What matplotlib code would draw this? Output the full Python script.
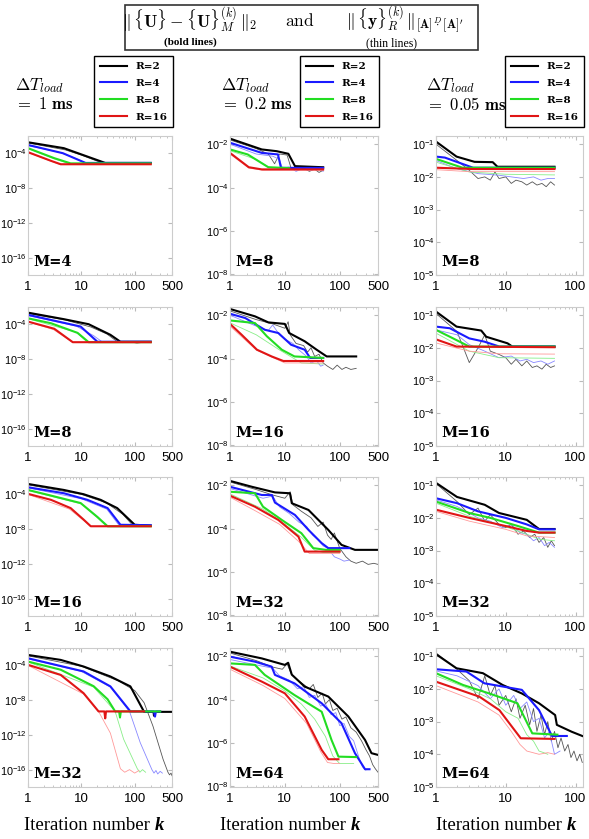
import numpy as np
import matplotlib
matplotlib.use('Agg')
from matplotlib import pyplot as plt
from matplotlib.patches import Rectangle

plt.rcParams['mathtext.fontset'] = 'cm'
plt.rcParams['font.family'] = ['Liberation Sans', 'DejaVu Sans']

R_values = [2, 4, 8, 16]
dt_labels = [r'$=\ \mathbf{1\ ms}$', r'$=\ \mathbf{0.2\ ms}$', r'$=\ \mathbf{0.05\ ms}$']
M_values = [[4, 8, 16, 32], [8, 16, 32, 64], [8, 16, 32, 64]]
xticks = [[1, 10, 100, 500], [1, 10, 100, 500], [1, 10, 100]]
yticks_exp = [[-4, -8, -12, -16], [-2, -4, -6, -8], [-1, -2, -3, -4, -5]]
ylims_exp = [(-18, -2), (-8.03, -1.62), (-5, -0.75)]
xmax = [500, 500, 128]

# values: {R: (iteration k, log10 of the norm)}
# dT = 1 ms
a1_bold = {2: ([1, 4.7, 28, 200], [-2.72, -3.4, -5.1, -5.1]),
           4: ([1, 4.5, 12, 200], [-3.03, -3.98, -5.1, -5.1]),
           8: ([1, 3.1, 6.3, 200], [-3.4, -4.55, -5.15, -5.15]),
           16: ([1, 2.7, 4.1, 200], [-3.86, -4.86, -5.25, -5.25])}
a1_thin = {2: ([1, 5, 10, 20, 30, 200], [-2.8, -3.6, -4.2, -4.9, -5.2, -5.2]),
           4: ([1, 4, 8, 13, 200], [-3.1, -3.9, -4.6, -5.2, -5.2]),
           8: ([1, 3, 6, 200], [-3.45, -4.6, -5.2, -5.2]),
           16: ([1, 2.7, 4, 200], [-3.9, -4.9, -5.3, -5.3])}
a2_bold = {2: ([1, 4.7, 13.7, 35, 54, 200], [-2.65, -3.4, -3.98, -5.2, -6.0, -6.0]),
           4: ([1, 9.7, 20, 200], [-2.9, -4.25, -6.0, -6.0]),
           8: ([1, 2.7, 8.5, 13.7, 200], [-3.3, -3.87, -4.98, -6.05, -6.05]),
           16: ([1, 3.1, 6.9, 200], [-3.68, -4.5, -6.05, -6.05])}
a2_thin = {2: ([1, 5, 15, 30, 45, 60, 80, 110, 150, 200],
               [-2.75, -3.5, -4.3, -5.1, -5.9, -6.1, -6.0, -6.15, -6.05, -6.1]),
           4: ([1, 8, 17, 25, 200], [-3.0, -4.2, -5.3, -6.05, -6.1]),
           8: ([1, 8, 13, 200], [-3.35, -4.9, -6.05, -6.05]),
           16: ([1, 3, 7, 200], [-3.7, -4.6, -6.1, -6.1])}
a3_bold = {2: ([1, 4.7, 11, 23, 47, 100, 200], [-2.8, -3.49, -3.98, -4.63, -5.58, -7.5, -7.6]),
           4: ([1, 4.7, 13, 31, 54, 200], [-3.18, -3.87, -4.63, -5.58, -7.5, -7.55]),
           8: ([1, 2.7, 9.7, 20, 31, 200], [-3.49, -4.14, -5.0, -6.6, -7.67, -7.67]),
           16: ([1, 2.7, 6.3, 11, 15, 200], [-3.94, -4.63, -5.58, -6.9, -7.67, -7.67])}
a3_thin = {2: ([1, 10, 30, 60, 90, 200], [-2.9, -4.0, -5.0, -6.3, -7.5, -7.6]),
           4: ([1, 10, 30, 50, 200], [-3.25, -4.5, -5.7, -7.5, -7.6]),
           8: ([1, 10, 20, 30, 200], [-3.55, -5.1, -6.7, -7.7, -7.7]),
           16: ([1, 6, 11, 15, 200], [-4.0, -5.7, -7.0, -7.7, -7.7])}
a4_bold = {2: ([1, 4.1, 11, 35, 83, 150, 225, 230, 235, 500],
               [-2.8, -3.37, -4.13, -5.28, -6.42, -9.35, -9.35, -9.8, -9.35, -9.35]),
           4: ([1, 11, 35, 83, 230, 240, 250, 300], [-3.18, -4.7, -6.42, -9.3, -9.3, -9.9, -9.3, -9.3]),
           8: ([1, 4.1, 17, 31, 43, 51, 53, 55, 300],
               [-3.56, -4.5, -6.4, -7.9, -9.3, -9.3, -10.0, -9.3, -9.3]),
           16: ([1, 4.1, 11, 21, 27, 28, 29, 150], [-3.94, -5.1, -7.2, -9.3, -9.3, -10.1, -9.3, -9.3])}
a4_thin = {2: ([1, 10, 50, 100, 150, 220, 340, 420, 450, 480, 500],
               [-2.9, -4.1, -5.8, -6.9, -8.3, -11.0, -14.8, -16.3, -16.6, -16.4, -16.7]),
           4: ([1, 10, 35, 80, 127, 210, 230, 250, 270, 300, 330],
               [-3.25, -4.7, -6.5, -9.3, -12.9, -16.0, -16.4, -16.1, -16.5, -16.2, -16.4]),
           8: ([1, 17, 43, 62, 112, 125, 140, 160], [-3.6, -6.5, -9.3, -12.5, -15.9, -16.3, -16.0, -16.3]),
           16: ([1, 11, 21, 35, 54, 65, 80, 100, 120],
                [-4.0, -7.3, -9.3, -11.8, -15.9, -16.3, -16.0, -16.4, -16.1])}

# dT = 0.2 ms
b1_bold = {2: ([1, 3.8, 7.1, 11.6, 15.3, 50], [-1.74, -2.24, -2.32, -2.44, -3.01, -3.06]),
           4: ([1, 3.8, 7.5, 8.5, 50], [-1.93, -2.4, -2.47, -3.09, -3.09]),
           8: ([1, 2.1, 5, 12], [-2.24, -2.47, -3.06, -3.1]),
           16: ([1, 2.2, 3.8, 50], [-2.4, -3.06, -3.16, -3.16])}
b1_thin = {2: ([1, 3, 5, 6.5, 8, 11, 13, 17, 22, 28, 35, 42, 50],
               [-1.8, -2.2, -2.45, -2.9, -2.45, -2.5, -3.1, -3.2, -3.1, -3.25, -3.15, -3.3, -3.2]),
           4: ([1, 3, 6, 8, 9, 12, 16, 20, 30, 40, 50],
               [-2.0, -2.45, -2.55, -2.7, -3.1, -3.05, -3.25, -3.15, -3.2, -3.1, -3.25]),
           8: ([1, 3, 5, 8, 15, 50], [-2.3, -2.7, -3.05, -3.1, -3.15, -3.15]),
           16: ([1, 2.2, 4, 50], [-2.45, -3.1, -3.2, -3.2])}
b2_bold = {2: ([1, 2.85, 5, 10, 12, 23, 38, 58, 200], [-1.71, -2.05, -2.33, -2.4, -2.82, -3.2, -3.59, -3.9, -3.9]),
           4: ([1, 1.9, 4.3, 7.6, 13, 23, 29, 50], [-1.93, -2.13, -2.67, -2.82, -3.36, -3.59, -3.97, -3.97]),
           8: ([1, 2.85, 4.7, 8.8, 15, 50], [-2.24, -2.36, -2.97, -3.59, -3.9, -3.97]),
           16: ([1, 1.63, 3.1, 5.75, 9.4, 50], [-2.4, -2.9, -3.59, -3.9, -4.11, -4.11])}
b2_thin = {2: ([1, 3, 6, 10, 11.5, 12.5, 16, 22, 26, 30, 35, 42, 50, 60, 75, 90, 110, 130, 160, 200],
               [-1.8, -2.2, -2.4, -2.6, -2.3, -2.9, -3.3, -3.4, -3.7, -3.5, -3.9, -3.8, -4.2, -4.35,
                -4.5, -4.3, -4.5, -4.4, -4.5, -4.45]),
           4: ([1, 3, 5, 6, 8, 10, 14, 18, 25, 30, 38, 45, 50],
               [-2.0, -2.5, -2.7, -2.45, -2.9, -3.1, -3.3, -3.6, -3.9, -4.2, -4.1, -4.35, -4.3]),
           8: ([1, 3, 8, 20, 50], [-2.35, -2.9, -3.6, -4.2, -4.25]),
           16: ([1, 3, 6, 10, 50], [-2.5, -3.6, -3.95, -4.2, -4.2])}
b3_bold = {2: ([1, 2.5, 6.6, 12.4, 13.4, 27, 62, 108, 190, 500],
               [-1.8, -2.07, -2.33, -2.37, -2.83, -3.14, -4.06, -4.75, -4.98, -4.98]),
           4: ([1, 3.8, 5.8, 6.6, 15.3, 27, 47, 62, 150], [-2.07, -2.45, -2.45, -2.8, -3.37, -4.06, -4.67, -4.9, -4.9]),
           8: ([1, 2.85, 4, 8.8, 20, 33, 56, 100], [-2.3, -2.37, -2.99, -3.6, -4.21, -4.9, -4.98, -4.98]),
           16: ([1, 2.85, 7.6, 17.7, 23, 100], [-2.48, -2.99, -3.6, -4.37, -5.06, -5.06])}
b3_thin = {2: ([1, 3, 6, 10, 12.5, 14, 20, 30, 40, 50, 60, 70, 80, 100, 130, 160, 200, 260, 330, 420, 500],
               [-1.85, -2.2, -2.45, -2.6, -2.3, -2.9, -3.2, -3.5, -3.9, -3.7, -4.3, -4.5, -4.2, -4.9,
                -5.3, -5.5, -5.6, -5.5, -5.65, -5.6, -5.65]),
           4: ([1, 4, 6, 8, 12, 18, 25, 32, 40, 50, 60, 80, 100, 120, 150],
               [-2.15, -2.6, -2.5, -3.0, -3.3, -3.7, -3.9, -4.3, -4.5, -4.8, -4.9, -5.3, -5.4, -5.5, -5.45]),
           8: ([1, 4, 10, 20, 35, 50, 100], [-2.4, -3.1, -3.8, -4.4, -5.0, -5.1, -5.1]),
           16: ([1, 3, 8, 18, 28, 100], [-2.55, -3.2, -3.8, -4.6, -5.15, -5.15])}
b4_bold = {2: ([1, 3.8, 10, 11.5, 13.4, 23, 62, 144, 290, 380, 500],
               [-1.79, -2.1, -2.4, -2.3, -2.85, -3.4, -3.86, -4.78, -5.86, -6.47, -6.55]),
           4: ([1, 2.85, 5.75, 6.6, 15, 47, 108, 190, 290, 350],
               [-2.02, -2.25, -2.48, -2.86, -3.25, -4.17, -5.09, -6.47, -7.21, -7.21]),
           8: ([1, 2.85, 4.3, 15, 47, 71, 95, 200], [-2.33, -2.4, -2.86, -3.79, -4.56, -5.86, -6.63, -6.65]),
           16: ([1, 3.8, 10, 23, 47, 62, 95], [-2.48, -3.17, -3.71, -4.78, -6.32, -6.75, -6.75])}
b4_thin = {2: ([1, 3, 6, 9, 11, 13, 17, 22, 28, 33, 40, 48, 55, 65, 75, 90, 110, 130, 160, 200, 250, 300,
                350, 400, 450, 500],
               [-1.85, -2.2, -2.5, -2.6, -2.35, -2.8, -3.1, -3.3, -3.5, -3.3, -3.9, -3.7, -4.2, -4.0, -4.5,
                -4.4, -4.9, -4.8, -5.3, -5.5, -5.9, -6.3, -6.6, -7.0, -7.2, -7.35]),
           4: ([1, 3, 6, 8, 12, 17, 22, 28, 35, 45, 55, 70, 85, 100, 120, 150, 180, 220, 260, 300],
               [-2.15, -2.4, -2.55, -2.9, -3.1, -3.5, -3.4, -3.9, -3.8, -4.3, -4.2, -4.7, -4.6, -5.2, -5.1,
                -5.7, -5.9, -6.6, -7.1, -7.25]),
           8: ([1, 4, 10, 20, 35, 55, 75, 100, 180], [-2.45, -3.0, -3.6, -4.2, -4.9, -5.7, -6.6, -6.95, -6.95]),
           16: ([1, 4, 10, 25, 45, 60, 80, 100], [-2.6, -3.35, -3.95, -5.1, -6.4, -6.9, -6.95, -6.95])}

# dT = 0.05 ms
c1_bold = {2: ([1, 1.97, 3.57, 6.5, 7.6, 50], [-0.92, -1.38, -1.54, -1.55, -1.69, -1.69]),
           4: ([1, 1.34, 3.4, 50], [-1.38, -1.41, -1.72, -1.72]),
           8: ([1, 2.4, 50], [-1.45, -1.72, -1.72]),
           16: ([1, 3.4, 50], [-1.72, -1.76, -1.76])}
c1_thin = {2: ([1, 2, 3, 4, 5, 6, 7, 8, 10, 12, 14, 17, 20, 24, 28, 33, 38, 44, 50],
               [-1.0, -1.5, -1.8, -2.05, -2.0, -2.1, -1.85, -2.05, -2.0, -2.2, -2.1, -2.15, -2.25, -2.15,
                -2.25, -2.2, -2.3, -2.15, -2.25]),
           4: ([1, 2, 4, 8, 12, 18, 25, 32, 40, 50], [-1.5, -1.75, -1.9, -1.95, -2.0, -2.05, -2.0, -2.1, -2.05, -2.05]),
           8: ([1, 3, 10, 50], [-1.55, -1.85, -1.92, -1.94]),
           16: ([1, 3, 50], [-1.78, -1.84, -1.84])}
c2_bold = {2: ([1, 1.97, 4.45, 5.25, 10.6, 12.4, 50], [-0.89, -1.35, -1.47, -1.66, -1.86, -1.96, -1.96]),
           4: ([1, 1.58, 3, 4.95, 8.1, 50], [-1.35, -1.4, -1.71, -1.81, -1.96, -1.96]),
           8: ([1, 1.58, 3, 50], [-1.45, -1.66, -1.96, -1.96]),
           16: ([1, 1.97, 50], [-1.74, -1.96, -1.98])}
c2_thin = {2: ([1, 2, 3, 4, 5, 6, 8, 10, 12, 14, 17, 20, 24, 28, 33, 38, 44, 50],
               [-0.95, -1.5, -2.45, -2.0, -1.6, -2.1, -2.2, -2.3, -2.5, -2.35, -2.55, -2.4, -2.6, -2.55,
                -2.65, -2.5, -2.6, -2.55]),
           4: ([1, 2, 3, 5, 8, 12, 16, 20, 25, 32, 40, 50],
               [-1.45, -1.6, -1.9, -2.1, -2.3, -2.25, -2.4, -2.35, -2.45, -2.4, -2.5, -2.4]),
           8: ([1, 3, 8, 50], [-1.55, -2.1, -2.3, -2.32]),
           16: ([1, 3, 8, 50], [-1.85, -2.1, -2.18, -2.19])}
c3_bold = {2: ([1, 2, 5, 8, 20, 30, 50], [-0.93, -1.36, -1.6, -1.85, -2.06, -2.34, -2.34]),
           4: ([1, 2, 4, 10, 20, 30, 50], [-1.4, -1.55, -1.8, -2.0, -2.2, -2.35, -2.35]),
           8: ([1, 3, 6, 15, 30, 50], [-1.5, -1.85, -2.0, -2.25, -2.45, -2.45]),
           16: ([1, 3, 10, 20, 30, 50], [-1.75, -2.0, -2.25, -2.4, -2.45, -2.45])}
c3_thin = {2: ([1, 2, 3, 4, 5, 6, 8, 10, 12, 15, 18, 22, 26, 30, 35, 40, 45, 50],
               [-0.95, -1.5, -1.9, -1.7, -2.1, -1.9, -2.2, -2.3, -2.2, -2.5, -2.4, -2.6, -2.5, -2.75, -2.6,
                -2.9, -2.7, -2.85]),
           4: ([1, 2, 4, 6, 9, 12, 16, 20, 25, 30, 36, 42, 50],
               [-1.45, -1.65, -2.0, -2.1, -2.3, -2.2, -2.45, -2.5, -2.7, -2.6, -2.85, -2.75, -2.9]),
           8: ([1, 3, 8, 20, 30, 50], [-1.55, -1.95, -2.2, -2.5, -2.65, -2.7]),
           16: ([1, 3, 10, 20, 50], [-1.8, -2.1, -2.35, -2.55, -2.6])}
c4_bold = {2: ([1, 1.97, 4.7, 9, 17, 30, 51, 54, 88, 125],
               [-0.94, -1.37, -1.52, -1.88, -2.14, -2.44, -2.8, -3.1, -3.31, -3.44]),
           4: ([1, 2.73, 4.95, 17, 30, 46, 75], [-1.4, -1.47, -1.83, -2.03, -2.65, -3.44, -3.44]),
           8: ([1, 2.44, 5.8, 14.7, 24, 55], [-1.52, -1.88, -2.14, -2.44, -3.36, -3.4]),
           16: ([1, 4.2, 8.1, 16.4, 50], [-1.78, -2.24, -2.65, -3.51, -3.53])}
c4_thin = {2: ([1, 2, 3, 4, 5, 6, 7, 8, 10, 12, 14, 16, 19, 22, 25, 28, 32, 36, 40, 45, 50, 56, 62, 70,
                78, 86, 95, 105, 115, 125],
               [-0.9, -1.4, -1.75, -2.3, -1.6, -2.2, -1.9, -2.5, -2.2, -2.7, -2.3, -2.9, -2.5, -3.1, -2.6,
                -3.3, -2.8, -3.4, -3.0, -3.6, -3.3, -3.8, -3.5, -3.9, -3.7, -4.1, -3.9, -4.2, -4.0, -4.25]),
           4: ([1, 2, 4, 6, 8, 10, 13, 16, 20, 25, 30, 36, 42, 50, 60],
               [-1.45, -1.6, -1.9, -2.3, -2.0, -2.5, -2.2, -2.6, -2.4, -3.0, -2.9, -3.5, -3.3, -4.0, -3.9]),
           8: ([1, 3, 6, 10, 15, 20, 25, 30, 35, 40], [-1.6, -2.0, -2.3, -2.7, -2.9, -3.4, -3.6, -3.9, -3.95, -4.0]),
           16: ([1, 4, 8, 12, 16, 20, 30, 40, 50], [-1.9, -2.4, -2.8, -3.3, -3.7, -3.9, -4.0, -3.95, -4.0])}

bold = [[a1_bold, a2_bold, a3_bold, a4_bold],
        [b1_bold, b2_bold, b3_bold, b4_bold],
        [c1_bold, c2_bold, c3_bold, c4_bold]]
thin = [[a1_thin, a2_thin, a3_thin, a4_thin],
        [b1_thin, b2_thin, b3_thin, b4_thin],
        [c1_thin, c2_thin, c3_thin, c4_thin]]

bold_colors = {2: '#000000', 4: '#1a1aff', 8: '#22dd22', 16: '#e01515'}
thin_colors = {2: '#555555', 4: '#8888ff', 8: '#88ee88', 16: '#ff9999'}

W, H = 589, 839
fig = plt.figure(figsize=(W / 100, H / 100), dpi=100)

col_left = [28, 230, 436]
col_width = [144, 148, 147]
row_top = [136, 307, 477, 648]
row_h = 139
frame_gray = '#cccccc'

for c in range(3):
    for r in range(4):
        ax = fig.add_axes([col_left[c] / W, 1 - (row_top[r] + row_h) / H, col_width[c] / W, row_h / H])
        for R in R_values:
            k, L = thin[c][r][R]
            ax.plot(k, 10.0 ** np.array(L), color=thin_colors[R], lw=0.6)
        for R in R_values:
            k, L = bold[c][r][R]
            ax.plot(k, 10.0 ** np.array(L), color=bold_colors[R], lw=1.5, label='R=%d' % R)
        ax.set_xscale('log')
        ax.set_yscale('log')
        ax.set_xlim(1, xmax[c])
        ax.set_ylim(10.0 ** ylims_exp[c][0], 10.0 ** ylims_exp[c][1])
        ax.set_xticks(xticks[c])
        ax.set_xticklabels([str(t) for t in xticks[c]], fontsize=9.5)
        ax.set_yticks([10.0 ** e for e in yticks_exp[c]])
        ax.set_yticklabels([r'$\mathregular{10^{%d}}$' % e for e in yticks_exp[c]], fontsize=7.8)
        ax.yaxis.set_minor_locator(matplotlib.ticker.NullLocator())
        ax.tick_params(which='both', direction='in', top=True, right=True, color='#bbbbbb')
        ax.tick_params(which='major', length=3)
        ax.tick_params(which='minor', length=1.5)
        ax.tick_params(axis='x', pad=4)
        ax.tick_params(axis='y', pad=1)
        for s in ax.spines.values():
            s.set_color(frame_gray)
            s.set_linewidth(0.8)
        ax.text(0.035, 0.04, 'M=%d' % M_values[c][r], transform=ax.transAxes,
                family='DejaVu Serif', weight='bold', fontsize=10.5, va='bottom', ha='left')
        if r == 0:
            leg = ax.legend(loc='lower right', bbox_to_anchor=(1.007, 1.062), borderaxespad=0,
                            prop={'family': 'DejaVu Serif', 'weight': 'bold', 'size': 7.5},
                            handlelength=2.6, handletextpad=0.8, fancybox=False,
                            framealpha=1, edgecolor='black', borderpad=0.55, labelspacing=0.72)
            leg.get_frame().set_linewidth(1.0)

# delta T labels above each column
dt_x = [15, 221, 426]
for c in range(3):
    fig.text(dt_x[c] / W, 1 - 86 / H, r'$\Delta T_{load}$', fontsize=12.5, va='center', ha='left')
    fig.text(dt_x[c] / W, 1 - 104 / H, dt_labels[c], fontsize=12, va='center', ha='left')

# x axis labels
k_x = [155, 351, 567]
for c in range(3):
    fig.text(k_x[c] / W, 1 - 825 / H, 'Iteration number ', family='Liberation Serif',
             fontsize=13.5, va='center', ha='right')
    fig.text(k_x[c] / W, 1 - 825 / H, 'k', family='Liberation Serif', style='italic',
             weight='bold', fontsize=13.5, va='center', ha='left')

# title box
fig.patches.append(Rectangle((125 / W, 1 - 50 / H), 353 / W, 45 / H, transform=fig.transFigure,
                             fill=False, edgecolor='#333333', lw=1.2))
fig.text(190 / W, 1 - 20 / H, r'$\Vert\,\{\mathbf{U}\} - \{\mathbf{U}\}_M^{(k)}\,\Vert_2$',
         fontsize=12.5, ha='center', va='center')
fig.text(300 / W, 1 - 20 / H, r'$\mathrm{and}$', fontsize=12.5, ha='center', va='center')
fig.text(405 / W, 1 - 20 / H,
         r'$\Vert\,\{\mathbf{y}\}_R^{(k)}\,\Vert_{[\mathbf{A}]\,\overset{D}{\cdot}\,[\mathbf{A}]^{\prime}}$',
         fontsize=12.5, ha='center', va='center')
fig.text(190 / W, 1 - 42 / H, '(bold lines)', family='Liberation Serif', weight='bold',
         fontsize=8, ha='center', va='center')
fig.text(392 / W, 1 - 43 / H, '(thin lines)', family='Liberation Serif',
         fontsize=8.5, ha='center', va='center')

fig.savefig('out.png', dpi=100)
